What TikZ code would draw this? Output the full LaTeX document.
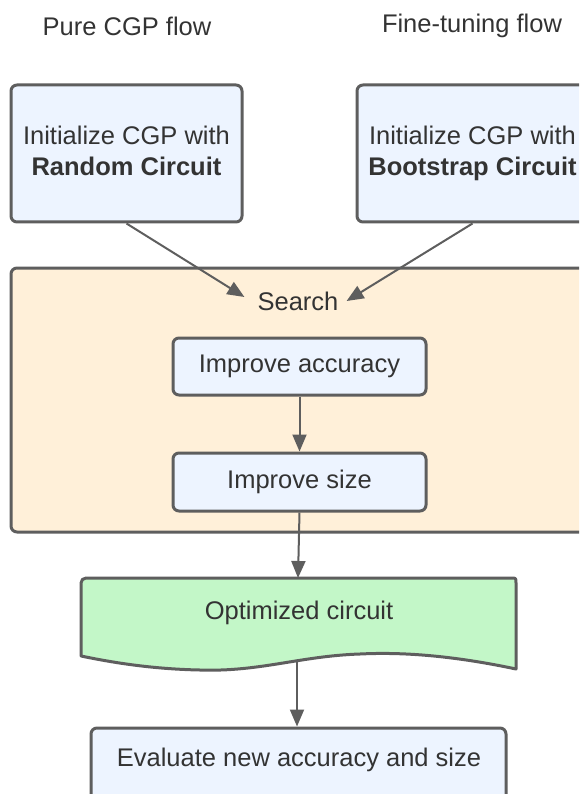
\documentclass[tikz,border=0pt]{standalone}
\usepackage{fontspec}
\setmainfont{Liberation Sans}
\usetikzlibrary{arrows.meta,calc}
\definecolor{edge}{HTML}{5E5E5E}
\definecolor{ink}{HTML}{333333}
\definecolor{bluefill}{HTML}{EDF4FF}
\definecolor{orangefill}{HTML}{FFF0D9}
\definecolor{greenfill}{HTML}{C3F7C8}
\tikzset{
  every node/.style={text=ink, font=\fontsize{25.5}{31}\selectfont},
  box/.style={draw=edge, fill=bluefill, line width=3pt, rounded corners=6pt,
              align=center, inner sep=0pt},
  group/.style={draw=edge, fill=orangefill, line width=3pt, rounded corners=6pt},
  arr/.style={draw=edge, line width=2pt, -{Triangle[length=17pt,width=14pt]}},
}
\begin{document}
\begin{tikzpicture}[x=1pt,y=-1pt]
\useasboundingbox (0,0) rectangle (579,794);
\clip (0,0) rectangle (579,794);

% flow titles
\node (t1) at (127,26) {Pure CGP flow};
\node (t2) at (472,26) {Fine-tuning flow};

% the two starting points
\node[box, minimum width=231pt, minimum height=137pt] (b1) at (126.5,153.5)
  {Initialize CGP with\\\textbf{Random Circuit}\\[-25pt]};
\node[box, minimum width=231pt, minimum height=137pt] (b2) at (472.5,153.5)
  {Initialize CGP with\\\textbf{Bootstrap Circuit}\\[-25pt]};

% search container
\node[group, minimum width=580pt, minimum height=264pt] (grp) at (301,400) {};
\node[inner sep=4pt] (search) at (298,301) {Search};

\node[box, minimum width=253pt, minimum height=57pt] (acc) at (299.5,366.5) {Improve accuracy};
\node[box, minimum width=253pt, minimum height=58pt] (size) at (299.5,482) {Improve size};

% optimized circuit (document shape)
\draw[draw=edge, fill=greenfill, line width=3pt, line join=round]
  (81,656) -- (81,583) to[rounded corners=5pt] (81,578) -- (511,578)
  .. controls (516,578) .. (516,583) -- (516,669)
  .. controls (450,655) and (400,652) .. (360,654)
  .. controls (300,656) and (260,672) .. (200,670)
  .. controls (150,669) and (110,662) .. (81,656) -- cycle;
\node (opt) at (299,613) {Optimized circuit};
\coordinate (optin) at (298,578);
\coordinate (optout) at (297,662);

\node[box, minimum width=415pt, minimum height=80pt] (eval) at (298.5,768) {};
\node (evaltext) at (299,760) {Evaluate new accuracy and size};

% connectors
\draw[arr] (b1.south) -- ([xshift=-9pt,yshift=4pt]search.west);
\draw[arr] (b2.south) -- ([xshift=4pt]search.east);
\draw[arr] (acc.south) -- (size.north);
\draw[arr] (size.south) -- (optin);
\draw[arr] (optout) -- (optout |- eval.north);
\end{tikzpicture}
\end{document}
